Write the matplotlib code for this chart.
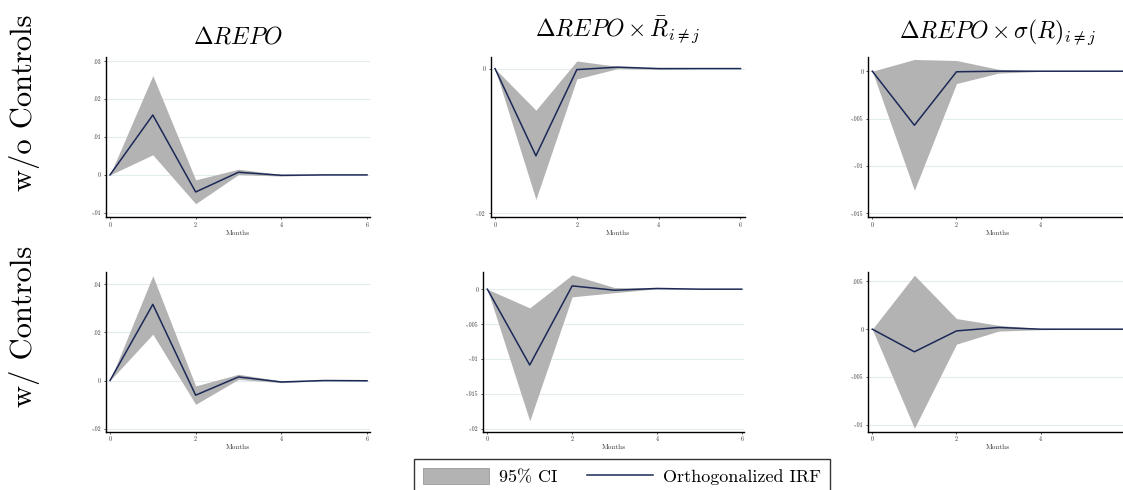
import matplotlib
matplotlib.use("Agg")
import matplotlib.pyplot as plt
from matplotlib.patches import Patch
from matplotlib.lines import Line2D

plt.rcParams['font.family'] = ['cmr10', 'DejaVu Serif']
plt.rcParams['mathtext.fontset'] = 'cm'
plt.rcParams['axes.unicode_minus'] = False
plt.rcParams['axes.formatter.use_mathtext'] = True

# ---------------- data ----------------
horizon = [0, 1, 2, 3, 4, 5, 6]

titles = [r'$\Delta REPO$',
          r'$\Delta REPO \times \bar{R}_{i\neq j}$',
          r'$\Delta REPO \times \sigma(R)_{i\neq j}$']
row_labels = ['w/o Controls', 'w/ Controls']
x_label = 'Months'
legend_labels = ['95% CI', 'Orthogonalized IRF']

# row 1 (w/o controls)
irf_1 = [0, 0.0158, -0.0045, 0.0007, -0.0001, 0.0000, 0.0000]
hi_1 = [0, 0.0262, -0.0013, 0.0015, 0.0001, 0.0000, 0.0000]
lo_1 = [0, 0.0053, -0.0076, 0.0001, -0.0003, 0.0000, 0.0000]

irf_2 = [0, -0.01205, -0.00014, 0.0002, 0.0000, 0.0000, 0.0000]
hi_2 = [0, -0.00575, 0.00105, 0.0003, 0.00005, 0.0000, 0.0000]
lo_2 = [0, -0.01807, -0.00143, 0.0000, -0.0001, 0.0000, 0.0000]

irf_3 = [0, -0.00571, -0.00006, 0.0000, 0.0000, 0.0000, 0.0000]
hi_3 = [0, 0.00124, 0.00113, 0.0002, 0.00002, 0.0000, 0.0000]
lo_3 = [0, -0.01258, -0.0013, -0.0002, -0.00002, 0.0000, 0.0000]

# row 2 (w/ controls)
irf_4 = [0, 0.0317, -0.0061, 0.0015, -0.0006, 0.0000, -0.0001]
hi_4 = [0, 0.0436, -0.00225, 0.0026, -0.0002, 0.0001, 0.0000]
lo_4 = [0, 0.0193, -0.0099, 0.0005, -0.0009, -0.0001, -0.0001]

irf_5 = [0, -0.01086, 0.00047, -0.00015, 0.0001, 0.0000, 0.0000]
hi_5 = [0, -0.00268, 0.00205, 0.00023, 0.00015, 0.0000, 0.0000]
lo_5 = [0, -0.01885, -0.0011, -0.0005, 0.00005, 0.0000, 0.0000]

irf_6 = [0, -0.00236, -0.00018, 0.00018, 0.0000, 0.0000, 0.0000]
hi_6 = [0, 0.00563, 0.00111, 0.0004, 0.00005, 0.0000, 0.0000]
lo_6 = [0, -0.01034, -0.00156, -0.0002, -0.00005, 0.0000, 0.0000]

yticks_1 = [-0.01, 0, 0.01, 0.02, 0.03]
yticks_2 = [-0.02, 0]
yticks_3 = [-0.015, -0.01, -0.005, 0]
yticks_4 = [-0.02, 0, 0.02, 0.04]
yticks_5 = [-0.02, -0.015, -0.01, -0.005, 0]
yticks_6 = [-0.01, -0.005, 0, 0.005]
xticks = [0, 2, 4, 6]
xticks_right = [0, 2, 4]   # last tick of right column falls off the picture

# ---------------- layout / style ----------------
W, H = 1123, 490
fig = plt.figure(figsize=(W / 100, H / 100), dpi=100)

FILL = '#b3b3b3'
LINE = '#1c2957'
GRID = '#e3ecec'

panels = [
    (irf_1, hi_1, lo_1, yticks_1, xticks, (-0.0111, 0.0311), (106, 57, 370, 217), (-0.093, 6.07)),
    (irf_2, hi_2, lo_2, yticks_2, xticks, (-0.0205, 0.0016), (490.7, 57, 745, 217), (-0.105, 6.11)),
    (irf_3, hi_3, lo_3, yticks_3, xticks_right, (-0.0154, 0.0015), (868.3, 57, 1127, 217), (-0.095, 6.05)),
    (irf_4, hi_4, lo_4, yticks_4, xticks, (-0.0213, 0.0453), (106, 271.7, 370, 431.7), (-0.093, 6.07)),
    (irf_5, hi_5, lo_5, yticks_5, xticks, (-0.0204, 0.0025), (483.3, 271.7, 744.3, 431.7), (-0.095, 6.06)),
    (irf_6, hi_6, lo_6, yticks_6, xticks_right, (-0.0107, 0.0060), (868.3, 271.7, 1127, 431.7), (-0.095, 6.05)),
]


def stata_fmt(v):
    if v == 0:
        return '0'
    s = f'{v:g}'
    return s.replace('0.', '.')


for irf, hi, lo, yt, xt, ylim, (l, t, r, b), xlim in panels:
    ax = fig.add_axes([l / W, 1 - b / H, (r - l) / W, (b - t) / H])
    ax.fill_between(horizon, lo, hi, color=FILL, linewidth=0, zorder=2)
    ax.plot(horizon, irf, color=LINE, linewidth=1.1, zorder=3)
    ax.set_xlim(*xlim)
    ax.set_ylim(*ylim)
    ax.set_yticks(yt)
    ax.set_yticklabels([stata_fmt(v) for v in yt])
    ax.set_xticks(xt)
    ax.set_xticklabels([str(v) for v in xt])
    for v in yt:
        ax.axhline(v, color=GRID, linewidth=0.8, zorder=1)
    for s in ['top', 'right']:
        ax.spines[s].set_visible(False)
    for s in ['left', 'bottom']:
        ax.spines[s].set_linewidth(1.0)
        ax.spines[s].set_color('black')
    ax.tick_params(axis='both', length=1.5, width=0.6, pad=2, labelsize=4.3,
                   colors='#333333')
    ax.set_xlabel(x_label, fontsize=5.2, labelpad=1.5, color='#333333')
    ax.set_facecolor('white')

# titles
title_pos = [(238, 44), (618, 37), (998, 37.5)]
for txt, (x, y) in zip(titles, title_pos):
    fig.text(x / W, 1 - y / H, txt, fontsize=17, ha='center', va='baseline')

# row labels
fig.text(25 / W, 1 - 102.5 / H, row_labels[0], fontsize=22, rotation=90,
         ha='center', va='center')
fig.text(25 / W, 1 - 326 / H, row_labels[1], fontsize=22, rotation=90,
         ha='center', va='center')

# legend
handles = [Patch(facecolor=FILL, edgecolor='#999999', linewidth=0.6),
           Line2D([0], [0], color=LINE, linewidth=1.1)]
leg = fig.legend(handles, legend_labels, ncol=2, loc='upper center',
                 bbox_to_anchor=(622 / W, 1 - 459 / H), frameon=True,
                 fancybox=False, edgecolor='black', fontsize=13,
                 handlelength=3.7, handleheight=0.95, handletextpad=0.55,
                 columnspacing=1.6, borderpad=0.5, borderaxespad=0)
leg.get_frame().set_linewidth(1.0)

fig.savefig('out.png', dpi=100, facecolor='white')
